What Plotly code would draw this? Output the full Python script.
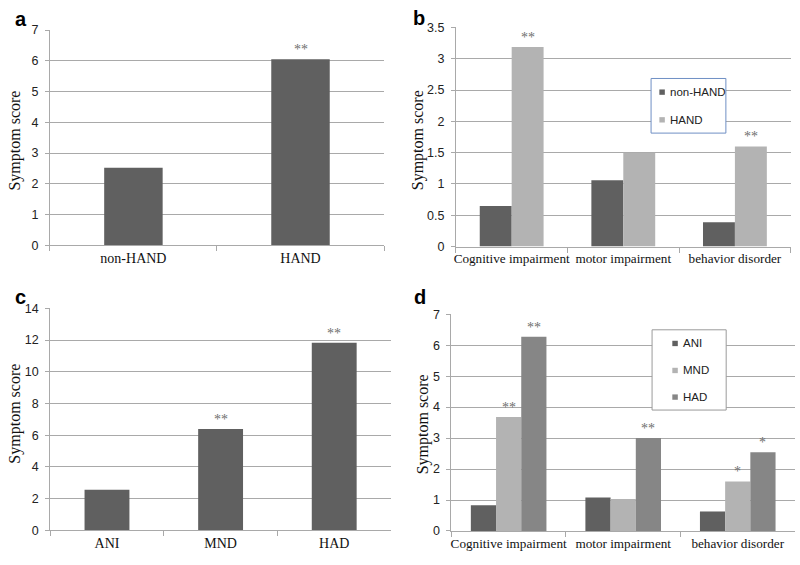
import plotly.graph_objects as go

W, H = 800, 565

# ---------------- data ----------------
cats_a = ["non-HAND", "HAND"]
vals_a = [2.52, 6.05]
sig_a = ["", "**"]

cats_b = ["Cognitive impairment", "motor impairment", "behavior disorder"]
b_nonhand = [0.65, 1.06, 0.39]
b_hand = [3.19, 1.50, 1.60]
sig_b_nonhand = ["", "", ""]
sig_b_hand = ["**", "", "**"]

cats_c = ["ANI", "MND", "HAD"]
vals_c = [2.56, 6.40, 11.83]
sig_c = ["", "**", "**"]

cats_d = ["Cognitive impairment", "motor impairment", "behavior disorder"]
d_ani = [0.83, 1.08, 0.63]
d_mnd = [3.68, 1.03, 1.60]
d_had = [6.27, 3.00, 2.54]
sig_d_ani = ["", "", ""]
sig_d_mnd = ["**", "", "*"]
sig_d_had = ["**", "**", "*"]

legend_b = ["non-HAND", "HAND"]
legend_d = ["ANI", "MND", "HAD"]

# ---------------- style ----------------
DARK = "#606060"
LIGHT = "#b3b3b3"
MID = "#868686"
GRID = "#a9a9a9"
SANS = "Liberation Sans, Arial, sans-serif"
SERIF = "Liberation Serif, Times New Roman, serif"


def px(x):
    return x / W


def py(y):
    return 1 - y / H


fig = go.Figure()
annotations = []
shapes = []


def add_series(cats, vals, sigs, color, width, offset, ax):
    xa = "x" if ax == 1 else f"x{ax}"
    ya = "y" if ax == 1 else f"y{ax}"
    fig.add_trace(go.Bar(
        x=cats, y=vals, xaxis=xa, yaxis=ya, width=width, offset=offset,
        marker=dict(color=color, line=dict(width=0)), showlegend=False,
        hoverinfo="x+y"))
    for i, (v, s) in enumerate(zip(vals, sigs)):
        if s:
            annotations.append(dict(
                x=i + offset + width / 2, y=v, xref=xa, yref=ya,
                text=s, showarrow=False, yanchor="bottom", yshift=0,
                font=dict(family=SERIF, size=14, color="#6e6e6e")))


# panel a
add_series(cats_a, vals_a, sig_a, DARK, 0.35, -0.175, 1)
# panel b
wb = 0.286
add_series(cats_b, b_nonhand, sig_b_nonhand, DARK, wb, -wb, 2)
add_series(cats_b, b_hand, sig_b_hand, LIGHT, wb, 0.0, 2)
# panel c
add_series(cats_c, vals_c, sig_c, DARK, 0.395, -0.1975, 3)
# panel d
wd = 0.22
add_series(cats_d, d_ani, sig_d_ani, DARK, wd, -1.5 * wd, 4)
add_series(cats_d, d_mnd, sig_d_mnd, LIGHT, wd, -0.5 * wd, 4)
add_series(cats_d, d_had, sig_d_had, MID, wd, 0.5 * wd, 4)


def xaxis(dom, anchor, fs):
    return dict(domain=[px(dom[0]), px(dom[1])], anchor=anchor, type="category",
                showline=True, linecolor=GRID, linewidth=1,
                ticks="outside", tickson="boundaries", ticklen=5, tickcolor=GRID,
                showgrid=False, zeroline=False, tickangle=0,
                tickfont=dict(family=SERIF, size=fs, color="#111"))


def yaxis(dom, anchor, rng, dtick):
    return dict(domain=[py(dom[1]), py(dom[0])], anchor=anchor, range=rng, dtick=dtick,
                showline=True, linecolor=GRID, linewidth=1,
                ticks="outside", ticklen=4, tickcolor=GRID, ticklabelstandoff=4,
                showgrid=True, gridcolor=GRID, gridwidth=1, zeroline=False,
                tickfont=dict(family=SANS, size=12.5, color="#222"))


fig.update_layout(
    width=W, height=H, autosize=False,
    margin=dict(l=0, r=0, t=0, b=0),
    paper_bgcolor="white", plot_bgcolor="white",
    barmode="overlay", showlegend=False,
    xaxis=xaxis((48, 383), "y", 14),
    yaxis=yaxis((23.7, 244.3), "x", [0, 7], 1),
    xaxis2=xaxis((455, 790.7), "y2", 13.2),
    yaxis2=yaxis((21, 245.7), "x2", [0, 3.5], 0.5),
    xaxis3=xaxis((48.3, 390), "y3", 14),
    yaxis3=yaxis((309, 536.7), "x3", [0, 14], 2),
    xaxis4=xaxis((450.5, 795), "y4", 13.2),
    yaxis4=yaxis((315, 537.3), "x4", [0, 7], 1),
)

# y-axis titles
for (x, y) in [(13, 137), (416.7, 137), (13, 417), (422, 428)]:
    annotations.append(dict(x=px(x), y=py(y), xref="paper", yref="paper",
                            text="Symptom score", textangle=-90, showarrow=False,
                            xanchor="center", yanchor="middle",
                            font=dict(family=SERIF, size=16, color="#111")))

# panel letters
for (x, y, t) in [(11, 12, "a"), (410.5, 11, "b"), (11, 297, "c"), (411.5, 297.5, "d")]:
    annotations.append(dict(x=px(x), y=py(y), xref="paper", yref="paper",
                            text=f"<b>{t}</b>", showarrow=False,
                            xanchor="left", yanchor="middle",
                            font=dict(family=SANS, size=20, color="#000")))

# legend b
shapes.append(dict(type="rect", xref="paper", yref="paper",
                   x0=px(650.7), x1=px(725.7), y0=py(129.3), y1=py(73.3),
                   line=dict(color="#6f8fc4", width=1), fillcolor="white", layer="above"))
for name, col, yc in zip(legend_b, [DARK, LIGHT], [87.3, 115.7]):
    shapes.append(dict(type="rect", xref="paper", yref="paper",
                       x0=px(659), x1=px(664.5), y0=py(yc + 2.75), y1=py(yc - 2.75),
                       line=dict(width=0), fillcolor=col, layer="above"))
    annotations.append(dict(x=px(667.5), y=py(yc), xref="paper", yref="paper",
                            text=name, showarrow=False, xanchor="left", yanchor="middle",
                            font=dict(family=SANS, size=11.5, color="#222")))

# legend d
shapes.append(dict(type="rect", xref="paper", yref="paper",
                   x0=px(651.7), x1=px(726), y0=py(413.3), y1=py(331),
                   line=dict(color="#9a9a9a", width=1), fillcolor="white", layer="above"))
for name, col, yc in zip(legend_d, [DARK, LIGHT, MID], [345, 372.7, 400]):
    shapes.append(dict(type="rect", xref="paper", yref="paper",
                       x0=px(672), x1=px(677.5), y0=py(yc + 2.75), y1=py(yc - 2.75),
                       line=dict(width=0), fillcolor=col, layer="above"))
    annotations.append(dict(x=px(680.5), y=py(yc), xref="paper", yref="paper",
                            text=name, showarrow=False, xanchor="left", yanchor="middle",
                            font=dict(family=SANS, size=11.5, color="#222")))

fig.update_layout(annotations=annotations, shapes=shapes)
fig.write_html("out.html", config={"displayModeBar": False},
               post_script="document.body.style.margin='0';document.body.style.overflow='hidden';")
